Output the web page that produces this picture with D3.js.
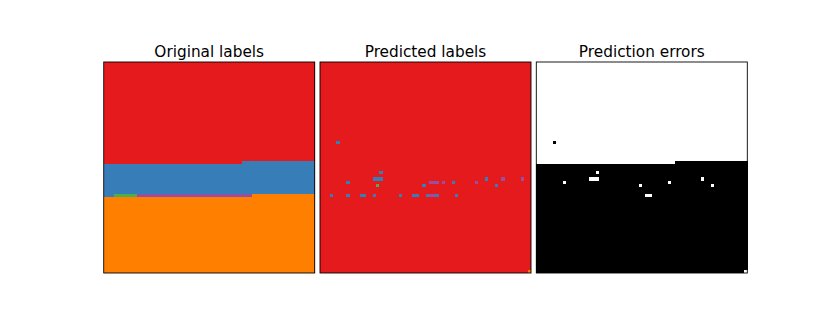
<!DOCTYPE html>
<html>
<head>
<meta charset="utf-8">
<script src="https://cdn.jsdelivr.net/npm/d3@7"></script>
<style>
  html, body { margin: 0; padding: 0; background: #fff; }
  svg { display: block; }
</style>
</head>
<body>
<svg id="chart" width="830" height="332"></svg>
<script>
// ---- DATA ----
const gridSize = 64;
const panelTitles = ["Original labels", "Predicted labels", "Prediction errors"];
// class index -> colour (Set1 palette)
const classColors = ["#e41a1c", "#377eb8", "#4daf4a", "#984ea3", "#ff7f00"];
const originalBackground = 4;
// [class, rowStart, rowEnd, colStart, colEnd] painted in order over the background
const originalRegions = [
  [0, 0, 30, 0, 41],
  [0, 0, 29, 42, 63],
  [1, 31, 39, 0, 41],
  [1, 30, 39, 42, 63],
  [1, 40, 40, 0, 2],
  [2, 40, 40, 3, 9],
  [3, 40, 40, 10, 44]
];
const predictedBackground = 0;
// [row, col, class] cells predicted differently from the background class
const predictedCells = [
  [24, 5, 1],
  [33, 18, 1],
  [35, 16, 1], [35, 17, 1], [35, 18, 1], [35, 50, 1], [35, 55, 3], [35, 61, 3],
  [36, 8, 1], [36, 33, 3], [36, 34, 3], [36, 35, 3], [36, 37, 3], [36, 40, 1], [36, 47, 3],
  [37, 17, 2], [37, 31, 1], [37, 53, 1],
  [40, 3, 1], [40, 8, 1], [40, 12, 1], [40, 13, 1], [40, 16, 1], [40, 24, 1],
  [40, 28, 1], [40, 29, 1], [40, 32, 1], [40, 33, 3], [40, 34, 3], [40, 35, 1], [40, 41, 1],
  [63, 63, 4]
];

// ---- BUILD GRIDS ----
const original = d3.range(gridSize).map(() => d3.range(gridSize).map(() => originalBackground));
originalRegions.forEach(([k, r0, r1, c0, c1]) => {
  for (let r = r0; r <= r1; r++) for (let c = c0; c <= c1; c++) original[r][c] = k;
});
const predicted = d3.range(gridSize).map(() => d3.range(gridSize).map(() => predictedBackground));
predictedCells.forEach(([r, c, k]) => { predicted[r][c] = k; });

const cells = [];
for (let r = 0; r < gridSize; r++) for (let c = 0; c < gridSize; c++) {
  cells.push({ r, c, orig: original[r][c], pred: predicted[r][c], ok: original[r][c] === predicted[r][c] });
}

// ---- LAYOUT ----
const svg = d3.select("#chart");
const panelSize = 211;
const panelX = d3.scaleLinear().domain([0, 2]).range([103.7, 536.3]);
const panelTop = 62;
const pos = d3.scaleBand().domain(d3.range(gridSize)).range([0, panelSize]);
const colour = d3.scaleOrdinal().domain(d3.range(classColors.length)).range(classColors);
const errColour = d3.scaleOrdinal().domain([true, false]).range(["#ffffff", "#000000"]);

const fills = [d => colour(d.orig), d => colour(d.pred), d => errColour(d.ok)];

panelTitles.forEach((title, i) => {
  const g = svg.append("g").attr("transform", `translate(${panelX(i)},${panelTop})`);
  g.append("g").attr("shape-rendering", "crispEdges")
    .selectAll("rect").data(cells).join("rect")
    .attr("x", d => pos(d.c))
    .attr("y", d => pos(d.r))
    .attr("width", pos.bandwidth() + 0.3)
    .attr("height", pos.bandwidth() + 0.3)
    .attr("fill", fills[i]);
  g.append("rect")
    .attr("x", 0).attr("y", 0)
    .attr("width", panelSize).attr("height", panelSize)
    .attr("fill", "none").attr("stroke", "#000").attr("stroke-width", 0.9);
  g.append("text")
    .attr("x", panelSize / 2).attr("y", -5.5)
    .attr("text-anchor", "middle")
    .attr("font-family", "DejaVu Sans, sans-serif")
    .attr("font-size", "15.3px")
    .attr("fill", "#000")
    .text(title);
});
</script>
</body>
</html>
